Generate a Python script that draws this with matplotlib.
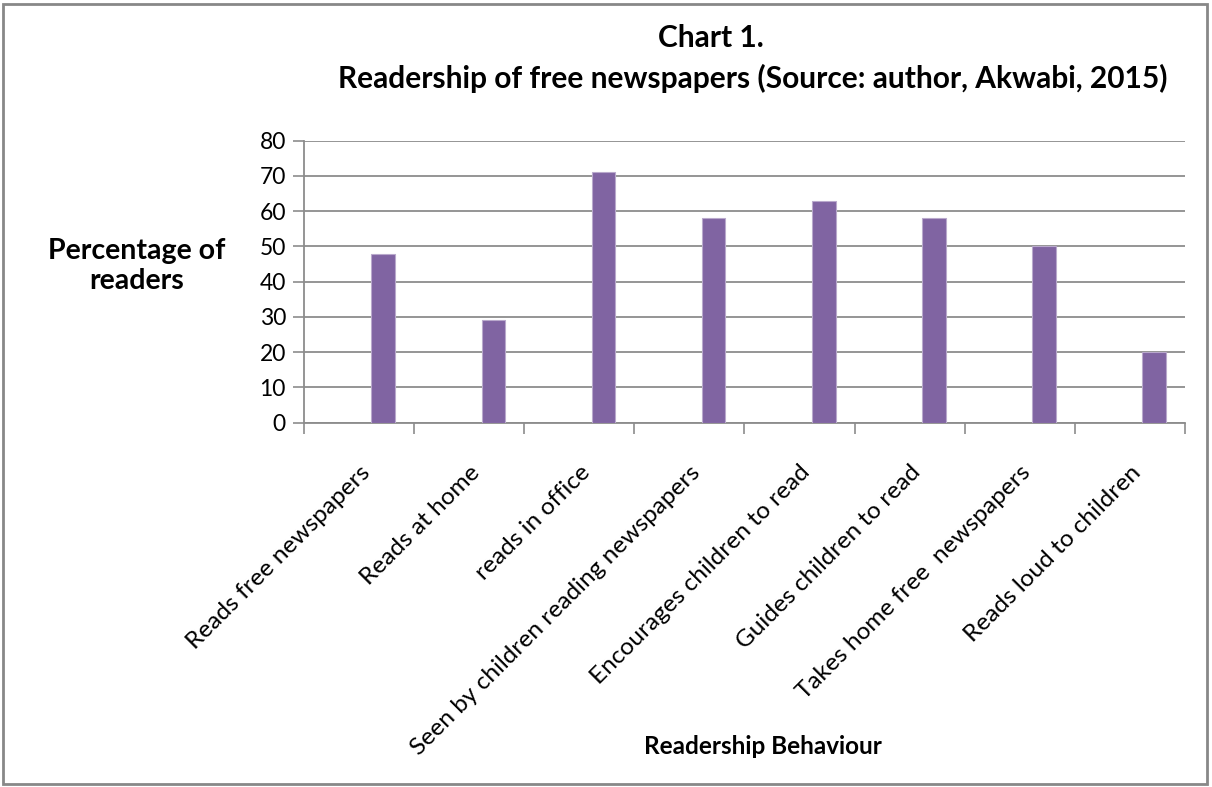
import numpy as np
import matplotlib
matplotlib.use("Agg")
import matplotlib.pyplot as plt
from matplotlib.patches import Rectangle

plt.rcParams['font.family'] = ['Lato', 'DejaVu Sans']

categories = ['Reads free newspapers', 'Reads at home', 'reads in office',
              'Seen by children reading newspapers', 'Encourages children to read',
              'Guides children to read', 'Takes home free  newspapers',
              'Reads loud to children']
percent = [48, 29, 71, 58, 63, 58, 50, 20]
y_ticks = [0, 10, 20, 30, 40, 50, 60, 70, 80]

bar_color = '#8064A2'
grid_color = '#8c8c8c'

fig = plt.figure(figsize=(12.12, 7.87), dpi=100)
ax = fig.add_axes([0.2508, 0.4629, 0.7269, 0.3583])

x = np.arange(len(categories))
ax.bar(x + 0.22, percent, width=0.215, color=bar_color,
       edgecolor='#b9a9cc', linewidth=0.8, zorder=3)

ax.set_xlim(-0.5, len(categories) - 0.5)
ax.set_ylim(0, 80)
ax.set_yticks(y_ticks)
ax.yaxis.grid(True, color=grid_color, linewidth=1.3, zorder=0)

# category labels at centres, tick marks at boundaries
ax.set_xticks(x)
ax.set_xticklabels(categories, rotation=45, ha='right', va='top',
                   rotation_mode='anchor', fontsize=17.6)
ax.set_xticks(np.arange(-0.5, len(categories)), minor=True)
ax.tick_params(axis='x', which='major', length=0, pad=28)
ax.tick_params(axis='x', which='minor', length=8, width=1.2, color=grid_color, direction='out')
ax.tick_params(axis='y', length=8, width=1.2, color=grid_color, labelsize=16.5, pad=5)

for s in ['top', 'right']:
    ax.spines[s].set_visible(False)
for s in ['left', 'bottom']:
    ax.spines[s].set_color(grid_color)
    ax.spines[s].set_linewidth(1.3)

fig.text(137 / 1212, 1 - 266 / 787, 'Percentage of\nreaders', ha='center', va='center',
         fontsize=20.5, fontweight='bold', linespacing=1.15)
fig.text(763 / 1212, 1 - 746 / 787, 'Readership Behaviour', ha='center', va='center',
         fontsize=17.5, fontweight='bold')
fig.text(711 / 1212, 1 - 38 / 787, 'Chart 1.', ha='center', va='center',
         fontsize=21.5, fontweight='bold')
fig.text(753 / 1212, 1 - 78 / 787, 'Readership of free newspapers (Source: author, Akwabi, 2015)',
         ha='center', va='center', fontsize=21.5, fontweight='bold')

fig.patches.append(Rectangle((3 / 1212, 3 / 787), 1204 / 1212, 780 / 787,
                             transform=fig.transFigure, fill=False,
                             edgecolor='#888888', linewidth=2))

fig.savefig('out.png', dpi=100)
